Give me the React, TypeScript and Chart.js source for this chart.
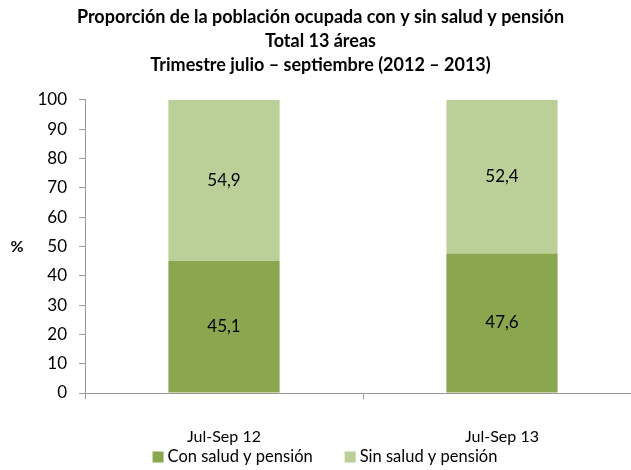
import React, { useEffect, useRef } from "react";
import { Chart, registerables } from "chart.js";

Chart.register(...registerables);

const categories = ["Jul-Sep 12", "Jul-Sep 13"];
const conSalud = [45.1, 47.6];
const sinSalud = [54.9, 52.4];
const seriesNames = ["Con salud y pensión", "Sin salud y pensión"];
const seriesColors = ["#8AA64F", "#BBCF99"];
const titleLines = [
  "Proporción de la población ocupada con y sin salud y pensión",
  "Total 13 áreas",
  "Trimestre julio – septiembre (2012 – 2013)",
];
const yTicks = [0, 10, 20, 30, 40, 50, 60, 70, 80, 90, 100];

const FONT = "Lato, 'Open Sans', sans-serif";
const CANVAS_W = 648;

const labelPlugin = {
  id: "valueLabels",
  afterDatasetsDraw(chart: any) {
    const ctx = chart.ctx;
    ctx.save();
    ctx.font = `17px ${FONT}`;
    ctx.fillStyle = "#000";
    ctx.textAlign = "center";
    ctx.textBaseline = "middle";
    chart.data.datasets.forEach((ds: any, i: number) => {
      const meta = chart.getDatasetMeta(i);
      meta.data.forEach((el: any, j: number) => {
        const v = ds.data[j];
        const y = (el.y + el.base) / 2;
        ctx.fillText(v.toFixed(1).replace(".", ","), el.x, y);
      });
    });
    // y axis title
    ctx.font = `bold 16px ${FONT}`;
    ctx.fillText("%", 17, (chart.chartArea.top + chart.chartArea.bottom) / 2);

    // legend
    ctx.font = `16.5px ${FONT}`;
    ctx.textAlign = "left";
    const box = 11;
    const gap = 4;
    const between = 32;
    const widths = seriesNames.map((n) => ctx.measureText(n).width);
    const total = widths.reduce((a, w) => a + box + gap + w, 0) + between * (seriesNames.length - 1);
    let x = 325 - total / 2;
    const cy = 457;
    seriesNames.forEach((n, i) => {
      ctx.fillStyle = seriesColors[i];
      ctx.fillRect(x, cy - box / 2, box, box);
      ctx.fillStyle = "#000";
      ctx.fillText(n, x + box + gap, cy);
      x += box + gap + widths[i] + between;
    });
    ctx.restore();
  },
};

export default function App() {
  const ref = useRef<HTMLCanvasElement>(null);
  useEffect(() => {
    if (!ref.current) return;
    const chart = new Chart(ref.current, {
      type: "bar",
      data: {
        labels: categories,
        datasets: seriesNames.map((name, i) => ({
          label: name,
          data: i === 0 ? conSalud : sinSalud,
          backgroundColor: seriesColors[i],
          barPercentage: 0.4,
          categoryPercentage: 1,
        })),
      },
      options: {
        animation: false,
        responsive: false,
        layout: { padding: { left: 0, right: 7, top: 0, bottom: 17 } },
        plugins: {
          title: {
            display: true,
            text: titleLines,
            color: "#000",
            font: { family: FONT, size: 18, weight: "bold", lineHeight: 1.33 },
            padding: { top: 5, bottom: 23 },
          },
          legend: { display: false },
          tooltip: { enabled: false },
        },
        scales: {
          x: {
            stacked: true,
            afterFit(scale: any) {
              scale.height = 60;
            },
            grid: {
              display: true,
              drawOnChartArea: false,
              drawTicks: true,
              tickLength: 6,
              color: "#999",
              offset: true,
            },
            border: { color: "#999" },
            ticks: { color: "#000", font: { family: FONT, size: 16 }, padding: 28, maxRotation: 0 },
          },
          y: {
            stacked: true,
            min: 0,
            max: 100,
            afterBuildTicks(scale: any) {
              scale.ticks = yTicks.map((v) => ({ value: v }));
            },
            afterFit(scale: any) {
              scale.width = 85;
            },
            grid: {
              display: true,
              drawOnChartArea: false,
              drawTicks: true,
              tickLength: 6,
              color: "#999",
            },
            border: { color: "#999" },
            ticks: { color: "#000", font: { family: FONT, size: 17 }, padding: 12 },
          },
        },
      },
      plugins: [labelPlugin],
    });
    return () => chart.destroy();
  }, []);
  return (
    <div
      style={{
        position: "fixed",
        left: 0,
        top: 0,
        width: 631,
        height: 470,
        overflow: "hidden",
        background: "#fff",
      }}
    >
      <canvas ref={ref} width={CANVAS_W} height={470} style={{ display: "block" }} />
    </div>
  );
}
